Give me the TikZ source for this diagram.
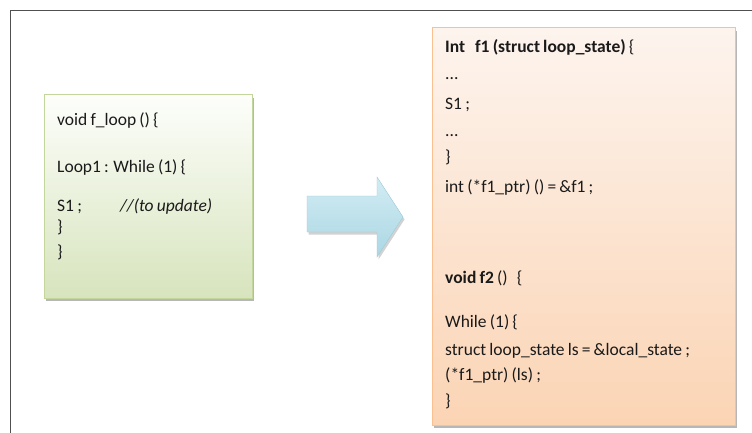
\documentclass[tikz,border=0pt]{standalone}
\usepackage{fontspec}
\setmainfont[WordSpace=0.8]{Carlito}
\usetikzlibrary{shadows}
\definecolor{framec}{HTML}{505050}
\definecolor{greentop}{HTML}{FDFEFB}
\definecolor{greenbot}{HTML}{D7E4BD}
\definecolor{greenedge}{HTML}{C3D69B}
\definecolor{orangetop}{HTML}{FDF4EE}
\definecolor{orangebot}{HTML}{FBD4B4}
\definecolor{orangeedge}{HTML}{FAC090}
\definecolor{arrowtop}{HTML}{D3ECF3}
\definecolor{arrowbot}{HTML}{AAD7E4}
\definecolor{arrowedge}{HTML}{9CCBDA}
\definecolor{txt}{HTML}{1A1A1A}
\tikzset{
  codeline/.style={anchor=base west, inner sep=0pt, font=\fontsize{17.5}{21}\selectfont, text=txt},
  boxshadow/.style={drop shadow={shadow xshift=2pt, shadow yshift=-3pt, fill=black!35, opacity=0.8}},
  greenbox/.style={draw=greenedge, line width=1pt, top color=greentop, bottom color=greenbot, boxshadow, inner sep=0pt},
  orangebox/.style={draw=orangeedge, line width=1pt, top color=orangetop, bottom color=orangebot, boxshadow, inner sep=0pt},
}
\begin{document}
\begin{tikzpicture}[x=1pt,y=-1pt]
\useasboundingbox (0,0) rectangle (752,433);
\fill[white] (0,0) rectangle (752,433);
% frame
\draw[framec, line width=1.4pt] (10.7,433) |- (752,10.7);
% boxes
\node[greenbox, minimum width=208pt, minimum height=203pt] (left) at (148,196.5) {};
\node[orangebox, minimum width=303pt, minimum height=397pt] (right) at (583.5,226.5) {};
% block arrow
\shade[top color=arrowtop, bottom color=arrowbot, draw=arrowedge, line width=0.4pt,
  drop shadow={shadow xshift=1.5pt, shadow yshift=-2.5pt, fill=black!25, opacity=0.7}]
  (307,196) -- (377,196) -- (377,177) -- (403,217) -- (377,257) -- (377,232) -- (307,232) -- cycle;
% left text
\node[codeline] (l1) at (57,125) {void f\_loop () \{};
\node[codeline] (l2) at (57,172) {Loop1 : While (1) \{};
\node[codeline] (l3) at (57,211) {S1 ;};
\node[codeline] (l3c) at (120,211) {\itshape //(to update)};
\node[codeline] (l4) at (57,232) {\}};
\node[codeline] (l5) at (57,257) {\}};
% right text
\node[codeline] (r1) at (445,53) {\textbf{Int\hspace{10pt}f1 (struct loop\_state)} \{};
\node[codeline] (r2) at (445,80) {...};
\node[codeline] (r3) at (445,110) {S1 ;};
\node[codeline] (r4) at (445,137) {...};
\node[codeline] (r5) at (445,162) {\}};
\node[codeline] (r6) at (445,192) {int (*f1\_ptr) () = \&f1 ;};
\node[codeline] (r7) at (445,283) {\textbf{void f2} ()\hspace{9pt}\{};
\node[codeline] (r8) at (445,327) {While (1) \{};
\node[codeline] (r9) at (445,355) {struct loop\_state ls = \&local\_state ;};
\node[codeline] (r10) at (445,380) {(*f1\_ptr) (ls) ;};
\node[codeline] (r11) at (445,406) {\}};
\end{tikzpicture}
\end{document}
